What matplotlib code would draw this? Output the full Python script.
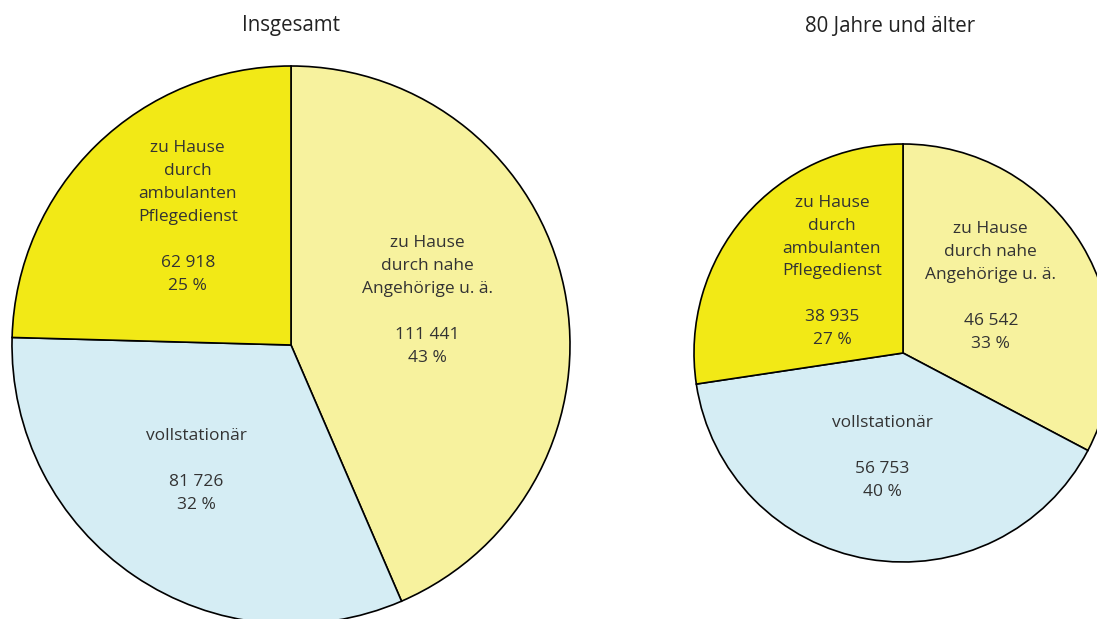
import matplotlib.pyplot as plt

plt.rcParams['font.family'] = ['Open Sans', 'DejaVu Sans']

# data
kategorien = ["zu Hause\ndurch nahe\nAngehörige u. ä.",
              "vollstationär",
              "zu Hause\ndurch\nambulanten\nPflegedienst"]
insgesamt = [111441, 81726, 62918]
insgesamt_pct = [43, 32, 25]
ab80 = [46542, 56753, 38935]
ab80_pct = [33, 40, 27]
titel = ["Insgesamt", "80 Jahre und älter"]

farben = ["#F7F29E", "#D5EDF4", "#F2E916"]
W, H = 1097, 619

# label placement relative to pie centre, in units of radius
pos_links = [(0.49, 0.16), (-0.34, -0.45), (-0.37, 0.46)]
pos_rechts = [(0.42, 0.32), (-0.10, -0.50), (-0.34, 0.39)]


def fmt(n):
    return f"{n:,}".replace(",", " ")


def draw_pie(ax, werte, pct, center, radius, pos):
    labels = [f"{k}\n\n{fmt(v)}\n{p} %" for k, v, p in zip(kategorien, werte, pct)]
    wedges, texts = ax.pie(werte, labels=labels, colors=farben, startangle=90,
                           counterclock=False, center=center, radius=radius,
                           frame=True,
                           wedgeprops=dict(edgecolor="black", linewidth=1.2),
                           textprops=dict(fontsize=12.5, color="#333333",
                                          linespacing=1.58))
    for t, (px, py) in zip(texts, pos):
        t.set_horizontalalignment("center")
        t.set_verticalalignment("center")
        t.set_position((center[0] + px * radius, center[1] + py * radius))
    return wedges


fig = plt.figure(figsize=(W / 100, H / 100), dpi=100)
ax = fig.add_axes([0, 0, 1, 1])

draw_pie(ax, insgesamt, insgesamt_pct, (291, H - 345), 279, pos_links)
draw_pie(ax, ab80, ab80_pct, (903, H - 353), 209, pos_rechts)

ax.set_xlim(0, W)
ax.set_ylim(0, H)
ax.set_aspect("equal")
ax.axis("off")

fig.text(291 / W, 1 - 26 / H, titel[0], ha="center", va="center", fontsize=14.8, color="#222222")
fig.text(890 / W, 1 - 26 / H, titel[1], ha="center", va="center", fontsize=14.8, color="#222222")

fig.savefig("out.png", dpi=100)
